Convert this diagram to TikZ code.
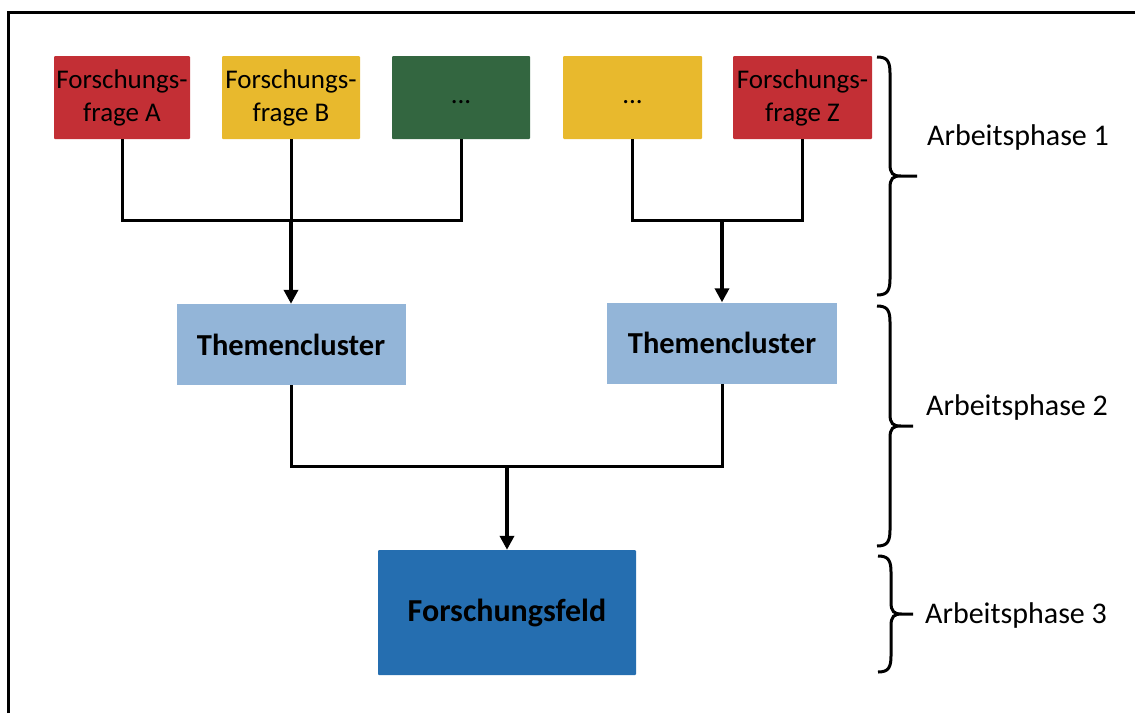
\documentclass[tikz,border=0pt]{standalone}
\usepackage{fontspec}
\setmainfont{Carlito}
\usetikzlibrary{arrows.meta}
\definecolor{cred}{HTML}{C32F35}
\definecolor{cyel}{HTML}{E8B92D}
\definecolor{cgreen}{HTML}{336640}
\definecolor{clight}{HTML}{93B5D8}
\definecolor{cblue}{HTML}{256EB0}
\tikzset{
  qbox/.style={rectangle, rounded corners=1pt, inner sep=0pt, align=center,
    font=\fontsize{27}{33}\selectfont, text=black, minimum height=83pt},
  tcbox/.style={rectangle, inner sep=0pt, fill=clight, minimum width=229pt,
    minimum height=81pt, font=\fontsize{30.5}{33}\bfseries\selectfont},
  conn/.style={line width=3pt},
  arr/.style={line width=4pt, -{Triangle[length=14pt,width=14pt]}},
  phase/.style={anchor=west, inner sep=0pt, font=\fontsize{30}{33}\selectfont},
  brace/.style={line width=3pt}
}
\newcommand{\phbrace}[4]{% x0, ytop, ybot, xtip
  \draw[brace] ({#1},{#2}) .. controls ({#1+10},{#2}) and ({#1+13},{#2+4}) .. ({#1+13},{#2+16})
    -- ({#1+13},{(#2+#3)/2-12}) .. controls ({#1+13},{(#2+#3)/2-2}) and ({#1+16},{(#2+#3)/2}) .. ({#1+24},{(#2+#3)/2})
    -- ({#4},{(#2+#3)/2})
    ({#1+24},{(#2+#3)/2}) .. controls ({#1+16},{(#2+#3)/2}) and ({#1+13},{(#2+#3)/2+2}) .. ({#1+13},{(#2+#3)/2+12})
    -- ({#1+13},{#3-16}) .. controls ({#1+13},{#3-4}) and ({#1+10},{#3}) .. ({#1},{#3});
}
\begin{document}
\begin{tikzpicture}[x=1pt,y=-1pt]
\useasboundingbox (0,0) rectangle (1135,713);
% frame (only top and left visible)
\draw[line width=3pt] (8,713) -- (8,12) -- (1135,12);

% research questions
\node[qbox, fill=cred, minimum width=136pt] (A) at (122,97.5) {Forschungs-\\frage A};
\node[qbox, fill=cyel, minimum width=138pt] (B) at (291,97.5) {Forschungs-\\frage B};
\node[qbox, fill=cgreen, minimum width=138pt] (G) at (461,97.5) {\raisebox{-6pt}[0pt][0pt]{...}};
\node[qbox, fill=cyel, minimum width=139pt] (Y) at (632.5,97.5) {\raisebox{-6pt}[0pt][0pt]{...}};
\node[qbox, fill=cred, minimum width=139pt] (Z) at (802.5,97.5) {Forschungs-\\frage Z};

% clusters
\node[tcbox] (T1) at (291,344.5) {Themencluster};
\node[tcbox, minimum width=230pt] (T2) at (722,343) {Themencluster};

% field
\node[rectangle, rounded corners=1pt, fill=cblue, minimum width=258pt, minimum height=125pt,
  font=\fontsize{32}{33}\bfseries\selectfont] (F) at (507,612.5) {Forschungsfeld};

% junction coordinates
\coordinate (j1) at (291,220);
\coordinate (j2) at (722,220);
\coordinate (j3) at (507,466);

% connectors
\draw[conn] (A.south) |- (j1) -| (G.south);
\draw[conn] (B.south) -- (j1);
\draw[arr] (j1) -- (T1.north);
\draw[conn] (Y.south) |- (j2) -| (Z.south);
\draw[arr] (j2) -- (T2.north);
\draw[conn] (T1.south) |- (j3) -| (T2.south);
\draw[arr] (j3) -- (F.north);

% braces
\phbrace{877}{57}{295}{917}
\phbrace{877}{306}{546}{913}
\phbrace{878}{556}{672}{913}

% phase labels
\node[phase] (P1) at (927,137) {Arbeitsphase 1};
\node[phase] (P2) at (926,407) {Arbeitsphase 2};
\node[phase] (P3) at (925,615) {Arbeitsphase 3};
\end{tikzpicture}
\end{document}
